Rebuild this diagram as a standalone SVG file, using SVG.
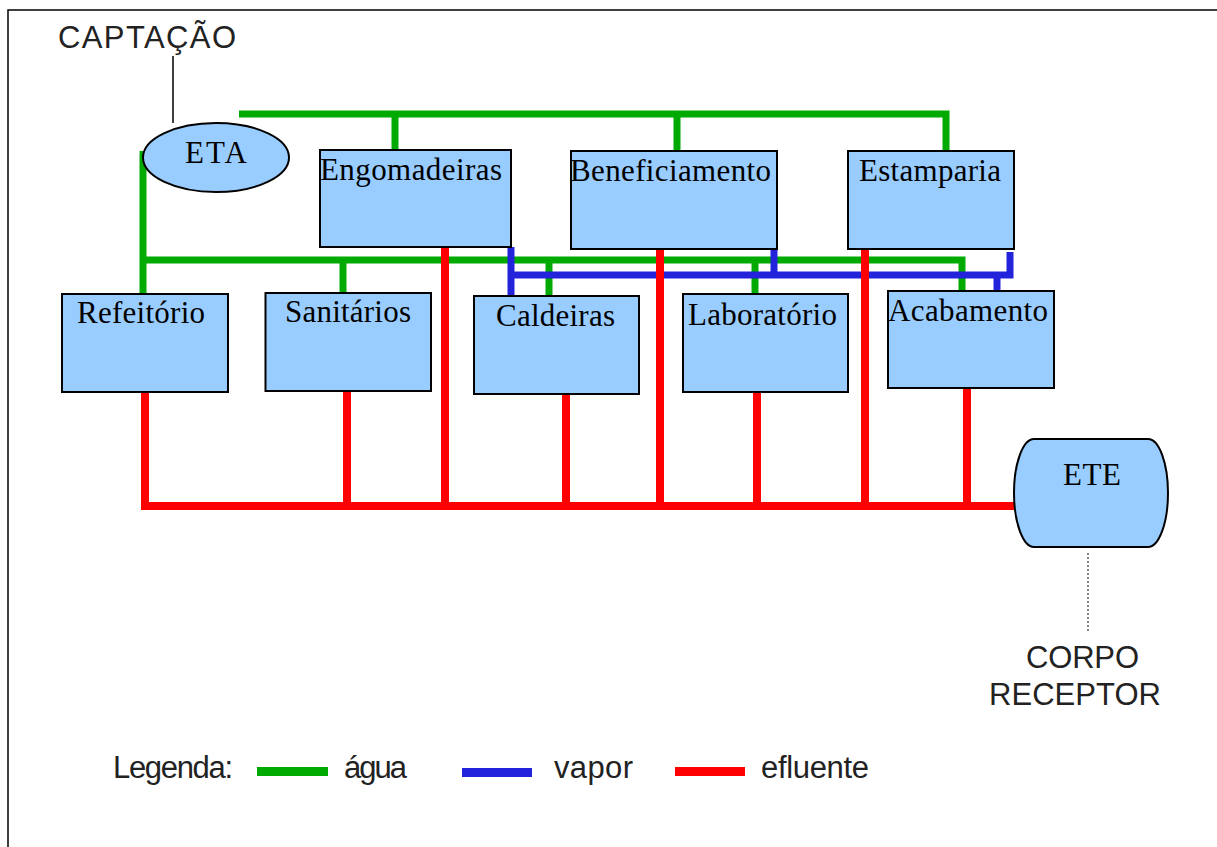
<svg xmlns="http://www.w3.org/2000/svg" width="1217" height="847" viewBox="0 0 1217 847">
<style>
.box{fill:#99ccff;stroke:#000;stroke-width:2}
.lbl{font-family:"Liberation Serif","Times New Roman",serif;font-size:31px;fill:#000}
.sans{font-family:"Liberation Sans",Arial,sans-serif;font-size:31px;fill:#222}
.g{fill:none;stroke:#00aa00;stroke-width:7}
.b{fill:none;stroke:#2323dc;stroke-width:7}
.r{fill:none;stroke:#ff0000;stroke-width:8}
</style>
<rect width="1217" height="847" fill="#fff"/>
<path d="M8,847 V10 H1217" fill="none" stroke="#000" stroke-width="1.5"/>
<g id="connectors">
<g id="agua">
<path class="g" d="M239,114 H946 V151"/>
<path class="g" d="M395,114 V150"/>
<path class="g" d="M677,114 V151"/>
<path class="g" d="M143,151 V294"/>
<path class="g" d="M143,260 H962 V291"/>
<path class="g" d="M343,260 V293"/>
<path class="g" d="M549,260 V296"/>
<path class="g" d="M755,260 V294"/>
</g>
<g id="vapor">
<path class="b" d="M511,247 V296"/>
<path class="b" d="M511,275 H1010 V252"/>
<path class="b" d="M774,248 V275"/>
<path class="b" d="M997,275 V291"/>
</g>
<g id="efluente">
<path class="r" d="M145,392 V506 H1018"/>
<path class="r" d="M347,391 V506"/>
<path class="r" d="M445,247 V506"/>
<path class="r" d="M566,394 V506"/>
<path class="r" d="M660,249 V510"/>
<path class="r" d="M757,392 V506"/>
<path class="r" d="M865,249 V506"/>
<path class="r" d="M967,388 V506"/>
</g>
<line x1="173" y1="56" x2="173" y2="123" stroke="#000" stroke-width="1.5"/>
<line x1="1088" y1="553" x2="1088" y2="633" stroke="#333" stroke-width="1.2" stroke-dasharray="2,2"/>
</g>
<g id="captacao"><text class="sans" x="58" y="48" textLength="178">CAPTAÇÃO</text></g>
<g id="eta">
<ellipse class="box" cx="216" cy="157.5" rx="73" ry="34.5"/>
<text class="lbl" x="185" y="163" textLength="62">ETA</text>
</g>
<g id="engomadeiras">
<rect class="box" x="320" y="150" width="191" height="97"/>
<text class="lbl" x="320" y="180" textLength="182">Engomadeiras</text>
</g>
<g id="beneficiamento">
<rect class="box" x="571" y="151" width="206" height="98"/>
<text class="lbl" x="570" y="181" textLength="201">Beneficiamento</text>
</g>
<g id="estamparia">
<rect class="box" x="848" y="151" width="166" height="98"/>
<text class="lbl" x="859" y="181" textLength="142">Estamparia</text>
</g>
<g id="refeitorio">
<rect class="box" x="62" y="294" width="166" height="98"/>
<text class="lbl" x="77" y="323" textLength="128">Refeitório</text>
</g>
<g id="sanitarios">
<rect class="box" x="265.5" y="293" width="165.5" height="98"/>
<text class="lbl" x="285" y="322" textLength="126">Sanitários</text>
</g>
<g id="caldeiras">
<rect class="box" x="474" y="296" width="165" height="98"/>
<text class="lbl" x="496" y="326" textLength="119">Caldeiras</text>
</g>
<g id="laboratorio">
<rect class="box" x="683" y="294" width="165" height="98"/>
<text class="lbl" x="688" y="325" textLength="149">Laboratório</text>
</g>
<g id="acabamento">
<rect class="box" x="888" y="291" width="166" height="97"/>
<text class="lbl" x="888" y="321" textLength="160">Acabamento</text>
</g>
<g id="ete">
<path class="box" d="M1034,439 H1148 A20,54 0 0 1 1148,547 H1034 A20,54 0 0 1 1034,439 Z"/>
<text class="lbl" x="1063" y="485" textLength="58">ETE</text>
</g>
<g id="corpo-receptor">
<text class="sans" x="1026" y="668" textLength="113">CORPO</text>
<text class="sans" x="989" y="705" textLength="172">RECEPTOR</text>
</g>
<g id="legenda">
<text class="sans" x="113" y="778" textLength="120">Legenda:</text>
<rect x="257" y="767" width="71" height="9" fill="#00aa00"/>
<text class="sans" x="344" y="778" textLength="63">água</text>
<rect x="462" y="768" width="70" height="9" fill="#2323dc"/>
<text class="sans" x="554" y="778" textLength="79">vapor</text>
<rect x="675" y="767" width="70" height="9" fill="#ff0000"/>
<text class="sans" x="761" y="778" textLength="108">efluente</text>
</g>
</svg>
